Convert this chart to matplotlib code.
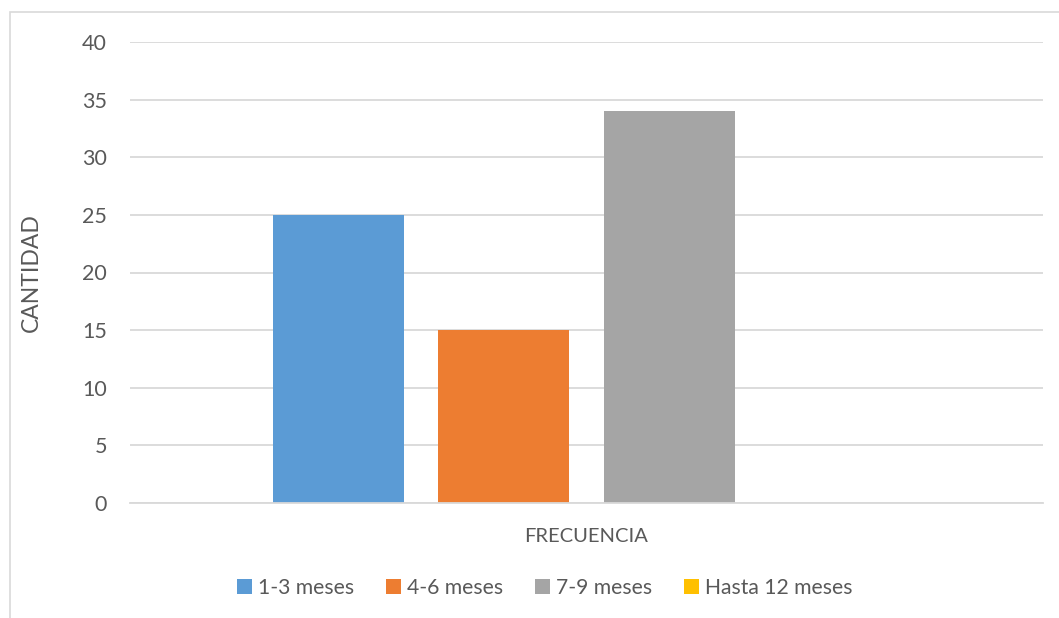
import matplotlib.pyplot as plt
from matplotlib.patches import Rectangle
import numpy as np

# Datos de la grafica
categorias = ['FRECUENCIA']
series = ['1-3 meses', '4-6 meses', '7-9 meses', 'Hasta 12 meses']
valores = [25, 15, 34, 0]
colores = ['#5B9BD5', '#ED7D31', '#A5A5A5', '#FFC000']
yticks = [0, 5, 10, 15, 20, 25, 30, 35, 40]

plt.rcParams['font.family'] = ['Lato', 'DejaVu Sans']
gris_texto = '#595959'

fig = plt.figure(figsize=(10.59, 6.18), dpi=100)
ax = fig.add_axes([130 / 1059, 1 - 503 / 618, 913 / 1059, 461 / 618])

# Borde del area del grafico (recortado a la derecha y abajo)
fig.patches.append(Rectangle((10 / 1059, -0.05), 1.2, 1 - 12 / 618 + 0.05,
                             transform=fig.transFigure, fill=False,
                             edgecolor='#d9d9d9', linewidth=1.2))

x = np.arange(len(categorias))
ancho = 0.1435
paso = 0.1812
for i, (nombre, val, col) in enumerate(zip(series, valores, colores)):
    offset = (i - 1.5) * paso
    ax.bar(x + offset, [val], width=ancho, color=col, label=nombre, zorder=2)

ax.set_xlim(-0.5, 0.5)
ax.set_ylim(0, 40)
ax.set_yticks(yticks)
ax.yaxis.grid(True, color='#d9d9d9', linewidth=1.3, zorder=0)
ax.set_axisbelow(True)

for s in ['top', 'left', 'right']:
    ax.spines[s].set_visible(False)
ax.spines['bottom'].set_color('#d9d9d9')
ax.spines['bottom'].set_linewidth(1.3)

ax.tick_params(axis='y', length=0, pad=16.5, labelsize=15.5, labelcolor=gris_texto)
ax.set_xticks([])
ax.set_xlabel(categorias[0], fontsize=14.5, color=gris_texto, labelpad=18)
ax.set_ylabel('CANTIDAD', fontsize=16.5, color=gris_texto)
ax.yaxis.set_label_coords(-0.0964, 0.5)

fig.legend(loc='center', bbox_to_anchor=(545 / 1059, 1 - 588 / 618), ncol=4,
           frameon=False, fontsize=15.2, handlelength=0.7, handleheight=0.7,
           handletextpad=0.3, columnspacing=1.5, labelcolor=gris_texto)

plt.savefig('out.png', dpi=100)
